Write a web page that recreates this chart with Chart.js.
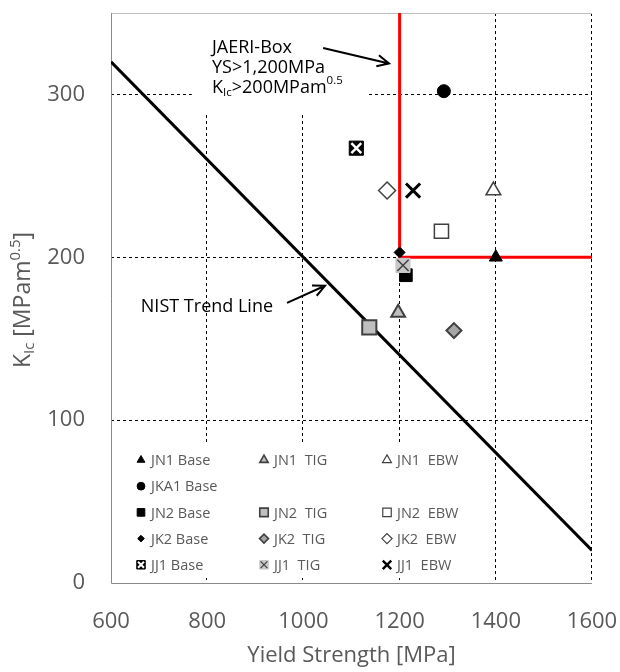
<!DOCTYPE html>
<html>
<head>
<meta charset="utf-8">
<script src="https://cdn.jsdelivr.net/npm/chart.js@4.4.0/dist/chart.umd.min.js"></script>
<style>
  html, body { margin: 0; padding: 0; background: #fff; }
  #wrap { width: 620px; height: 672px; }
</style>
</head>
<body>
<div id="wrap"><canvas id="chart" width="620" height="672"></canvas></div>
<script>
// ===== DATA =====
const xTicks = [600, 800, 1000, 1200, 1400, 1600];
const yTicks = [0, 100, 200, 300];

const seriesNames = ['JN1 Base', 'JN1  TIG', 'JN1  EBW', 'JKA1 Base',
  'JN2 Base', 'JN2  TIG', 'JN2  EBW',
  'JK2 Base', 'JK2  TIG', 'JK2  EBW',
  'JJ1 Base', 'JJ1  TIG', 'JJ1  EBW'];
const yieldStrength = [1400, 1197, 1395, 1292, 1213, 1137, 1287, 1200, 1313, 1174, 1110, 1207, 1228];
const toughness     = [200, 166, 241, 302, 189, 157, 216, 203, 155, 241, 267, 195, 241];

// NIST trend line and JAERI box outline
const nistX = [600, 1600];
const nistY = [320, 20];
const boxX = [1200, 1200, 1600];
const boxY = [350, 200, 200];

// ===== STYLES =====
const FONT = "'Open Sans', 'Liberation Sans', sans-serif";
const GREY_TXT = '#595959';
const DARK = '#404040';

// marker layers per series (base first, overlay second)
const markers = [
  [{ s: 'triangle', r: 7.5, bg: '#000', bc: '#000', w: 1 }],
  [{ s: 'triangle', r: 8, bg: '#BFBFBF', bc: DARK, w: 2 }],
  [{ s: 'triangle', r: 8.5, bg: '#fff', bc: DARK, w: 1.5 }],
  [{ s: 'circle', r: 6.5, bg: '#000', bc: '#000', w: 1 }],
  [{ s: 'rect', r: 9, bg: '#000', bc: '#000', w: 1 }],
  [{ s: 'rect', r: 10, bg: '#BFBFBF', bc: DARK, w: 2 }],
  [{ s: 'rect', r: 10, bg: '#fff', bc: DARK, w: 1.5 }],
  [{ s: 'rectRot', r: 5.5, bg: '#000', bc: '#000', w: 1 }],
  [{ s: 'rectRot', r: 7.5, bg: '#A6A6A6', bc: DARK, w: 2 }],
  [{ s: 'rectRot', r: 8.5, bg: '#fff', bc: DARK, w: 1.5 }],
  [{ s: 'rect', r: 10, bg: '#000', bc: '#000', w: 1 }, { s: 'crossRot', r: 7, bg: 'rgba(0,0,0,0)', bc: '#fff', w: 2.5 }],
  [{ s: 'rect', r: 10, bg: '#C8C8C8', bc: '#C8C8C8', w: 1 }, { s: 'crossRot', r: 8, bg: 'rgba(0,0,0,0)', bc: DARK, w: 1.5 }],
  [{ s: 'crossRot', r: 10, bg: 'rgba(0,0,0,0)', bc: '#000', w: 3 }]
];

// legend grid: [row, col] for each series
const legendCells = [[0,0],[0,1],[0,2],[1,0],[2,0],[2,1],[2,2],[3,0],[3,1],[3,2],[4,0],[4,1],[4,2]];

// ===== DATASETS =====
const datasets = [];
seriesNames.forEach((name, i) => {
  markers[i].forEach((m, layer) => {
    datasets.push({
      type: 'scatter',
      label: name,
      data: [{ x: yieldStrength[i], y: toughness[i] }],
      pointStyle: m.s,
      pointRadius: m.r,
      pointHoverRadius: m.r,
      pointBackgroundColor: m.bg,
      pointBorderColor: m.bc,
      pointBorderWidth: m.w,
      order: (seriesNames.length - i) * 2 - layer
    });
  });
});
datasets.push({
  type: 'scatter', label: 'NIST', showLine: true,
  data: nistX.map((x, i) => ({ x, y: nistY[i] })),
  borderColor: '#000', borderWidth: 3, pointRadius: 0, order: 1000
});
datasets.push({
  type: 'scatter', label: 'JAERI-Box', showLine: true,
  data: boxX.map((x, i) => ({ x, y: boxY[i] })),
  borderColor: '#FF0000', borderWidth: 3, pointRadius: 0, order: 999
});

// ===== HELPERS =====
function arrow(ctx, x0, y0, x1, y1) {
  const ang = Math.atan2(y1 - y0, x1 - x0);
  const len = 13, spread = 0.45;
  ctx.beginPath();
  ctx.moveTo(x0, y0);
  ctx.lineTo(x1, y1);
  ctx.moveTo(x1 - len * Math.cos(ang - spread), y1 - len * Math.sin(ang - spread));
  ctx.lineTo(x1, y1);
  ctx.lineTo(x1 - len * Math.cos(ang + spread), y1 - len * Math.sin(ang + spread));
  ctx.stroke();
}

// draws runs of [text, fontSize, baselineShift] starting at x
function drawRuns(ctx, runs, x, y) {
  runs.forEach(([t, size, dy]) => {
    ctx.font = size + 'px ' + FONT;
    ctx.fillText(t, x, y + dy);
    x += ctx.measureText(t).width;
  });
}
function runsWidth(ctx, runs) {
  return runs.reduce((w, [t, size]) => {
    ctx.font = size + 'px ' + FONT;
    return w + ctx.measureText(t).width;
  }, 0);
}

// ===== DECORATION PLUGIN =====
const decor = {
  id: 'decor',
  beforeDatasetsDraw(chart) {
    const { ctx, chartArea: a, scales: { x, y } } = chart;
    ctx.save();
    // dashed grid
    ctx.strokeStyle = '#000';
    ctx.lineWidth = 1;
    ctx.setLineDash([3, 3]);
    xTicks.slice(1).forEach(v => {
      const px = Math.round(x.getPixelForValue(v)) - 0.5;
      ctx.beginPath(); ctx.moveTo(px, a.top); ctx.lineTo(px, a.bottom); ctx.stroke();
    });
    yTicks.slice(1).forEach(v => {
      const py = Math.round(y.getPixelForValue(v)) + 0.5;
      ctx.beginPath(); ctx.moveTo(a.left, py); ctx.lineTo(a.right, py); ctx.stroke();
    });
    ctx.setLineDash([]);
    // frame
    ctx.strokeStyle = '#BFBFBF';
    ctx.beginPath(); ctx.moveTo(a.left, a.top + 0.5); ctx.lineTo(a.right, a.top + 0.5); ctx.stroke();
    ctx.strokeStyle = '#898989';
    ctx.beginPath();
    ctx.moveTo(a.left + 0.5, a.top); ctx.lineTo(a.left + 0.5, a.bottom + 0.5);
    ctx.lineTo(a.right, a.bottom + 0.5);
    ctx.stroke();
    // white backgrounds of text box and legend
    ctx.fillStyle = '#fff';
    const bx0 = x.getPixelForValue(768), bx1 = x.getPixelForValue(1133);
    const by0 = y.getPixelForValue(350), by1 = y.getPixelForValue(288);
    ctx.fillRect(bx0, by0 + 1, bx1 - bx0, by1 - by0 - 1);
    const lx0 = x.getPixelForValue(623), lx1 = x.getPixelForValue(1346);
    const ly0 = y.getPixelForValue(85), ly1 = y.getPixelForValue(3);
    ctx.fillRect(lx0, ly0, lx1 - lx0, ly1 - ly0);
    ctx.restore();
  },
  afterDatasetsDraw(chart) {
    const { ctx, chartArea: a, scales: { x, y } } = chart;
    ctx.save();
    ctx.textBaseline = 'middle';

    // legend
    const colX = [a.left + 30, a.left + 153, a.left + 276];
    const rowY = [0, 1, 2, 3, 4].map(r => a.bottom - 123 + r * 26.2);
    legendCells.forEach(([r, c], i) => {
      const cx = colX[c], cy = rowY[r];
      markers[i].forEach(m => {
        ctx.fillStyle = m.bg;
        ctx.strokeStyle = m.bc;
        ctx.lineWidth = Math.max(1, m.w * 0.8);
        Chart.helpers.drawPoint(ctx, { pointStyle: m.s, radius: m.r * 0.6, rotation: 0, borderWidth: m.w }, cx, cy);
      });
      ctx.fillStyle = GREY_TXT;
      ctx.textAlign = 'left';
      ctx.font = '14.5px ' + FONT;
      ctx.fillText(seriesNames[i], cx + 10, cy + 1);
    });

    // annotations
    ctx.fillStyle = '#000';
    ctx.textBaseline = 'alphabetic';
    const tx = x.getPixelForValue(810), ty = y.getPixelForValue(329);
    drawRuns(ctx, [['JAERI-Box', 18, 0]], tx, ty + 6);
    drawRuns(ctx, [['YS>1,200MPa', 18, 0]], tx, ty + 26);
    drawRuns(ctx, [['K', 18, 0], ['Ic', 11.5, 3], ['>200MPam', 18, 0], ['0.5', 11.5, -9]], tx, ty + 46);
    drawRuns(ctx, [['NIST Trend Line', 18, 0]], x.getPixelForValue(662), y.getPixelForValue(170) + 6);

    ctx.strokeStyle = '#000';
    ctx.lineWidth = 2;
    arrow(ctx, x.getPixelForValue(1041), y.getPixelForValue(328.5), x.getPixelForValue(1178), y.getPixelForValue(319));
    arrow(ctx, x.getPixelForValue(966), y.getPixelForValue(172), x.getPixelForValue(1045), y.getPixelForValue(182.5));

    // y axis title with subscript / superscript
    ctx.fillStyle = GREY_TXT;
    ctx.translate(22, (a.top + a.bottom) / 2 + 2);
    ctx.rotate(-Math.PI / 2);
    const runs = [['K', 23, 0], ['Ic', 15, 4], [' [MPam', 23, 0], ['0.5', 15, -10], [']', 23, 0]];
    drawRuns(ctx, runs, -runsWidth(ctx, runs) / 2, 8);
    ctx.restore();
  }
};

// ===== CHART =====
Chart.defaults.font.family = FONT;

new Chart(document.getElementById('chart'), {
  data: { datasets },
  options: {
    responsive: false,
    animation: false,
    devicePixelRatio: 1,
    events: [],
    layout: { padding: { top: 9, right: 28, left: 0, bottom: 0 } },
    plugins: { legend: { display: false }, tooltip: { enabled: false } },
    scales: {
      x: {
        type: 'linear', min: 600, max: 1600,
        afterBuildTicks: s => { s.ticks = xTicks.map(v => ({ value: v })); },
        ticks: { color: GREY_TXT, font: { size: 22 }, padding: 26, maxRotation: 0, callback: v => String(v) },
        grid: { display: false, drawTicks: false },
        border: { display: false },
        title: { display: true, text: 'Yield Strength [MPa]', color: GREY_TXT, font: { size: 22 }, padding: { top: 0, bottom: 3 } },
        afterFit: s => { s.height = 89; s.paddingLeft = 0; s.paddingRight = 0; }
      },
      y: {
        type: 'linear', min: 0, max: 350,
        afterBuildTicks: s => { s.ticks = yTicks.map(v => ({ value: v })); },
        ticks: { color: GREY_TXT, font: { size: 22 }, padding: 26, callback: v => String(v) },
        grid: { display: false, drawTicks: false },
        border: { display: false },
        afterFit: s => { s.width = 111; s.paddingTop = 0; s.paddingBottom = 0; }
      }
    }
  },
  plugins: [decor]
});
</script>
</body>
</html>
